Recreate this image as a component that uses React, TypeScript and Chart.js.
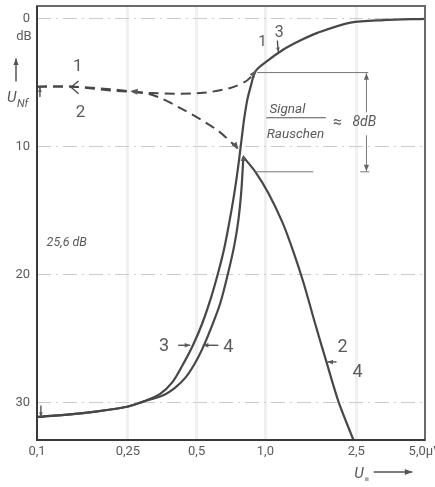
import React, { useEffect, useRef } from "react";
import { Chart, registerables } from "chart.js";

Chart.register(...registerables);

// ---- axis ticks ----
const xTicks = [0.1, 0.25, 0.5, 1.0, 2.5, 5.0];
const xTickLabels = ["0,1", "0,25", "0,5", "1,0", "2,5", "5,0µV"];
const yTicks = [0, 10, 20, 30];
const yTickLabels = ["0", "10", "20", "30"];

// ---- curves (x in µV, y in dB, downward) ----
const curve1X = [0.1, 0.144, 0.209, 0.313, 0.518, 0.702, 0.834, 0.904];
const curve1Y = [5.3, 5.3, 5.5, 5.8, 5.8, 5.4, 4.8, 4.1];

const curve2DashX = [0.1, 0.144, 0.209, 0.313, 0.437, 0.616, 0.754];
const curve2DashY = [5.3, 5.3, 5.6, 5.9, 7.1, 8.7, 10.1];

const curve2X = [0.801, 0.904, 1.03, 1.188, 1.327, 1.468, 1.657, 1.851, 2.09, 2.43];
const curve2Y = [10.8, 11.95, 13.6, 15.9, 18.2, 20.6, 23.9, 26.8, 29.9, 32.9];

const curve3X = [0.1, 0.159, 0.248, 0.292, 0.346, 0.391, 0.4325, 0.479, 0.529, 0.58, 0.622, 0.661, 0.695, 0.724, 0.746, 0.762, 0.777, 0.793, 0.809, 0.834, 0.868, 0.904, 1.0, 1.2, 1.42, 1.69, 2.36, 3.29, 5.0];
const curve3Y = [31.1, 30.8, 30.3, 29.9, 29.3, 28.4, 27.1, 25.6, 23.8, 21.7, 19.8, 17.9, 15.9, 14.1, 12.6, 11.4, 10.2, 8.9, 7.7, 6.3, 5.1, 4.1, 3.4, 2.4, 1.7, 1.1, 0.3, 0.1, 0.0];

const curve4X = [0.1, 0.159, 0.248, 0.292, 0.357, 0.403, 0.4457, 0.488, 0.529, 0.58, 0.635, 0.688, 0.731, 0.762, 0.785, 0.801];
const curve4Y = [31.1, 30.8, 30.3, 29.9, 29.4, 28.8, 28.05, 27.0, 25.8, 24.1, 22.2, 19.8, 17.7, 15.7, 13.4, 10.8];

// ---- curve labels ----
const labelTexts = ["1", "2", "3", "4", "2", "4", "1", "3"];
const labelX = [0.151, 0.155, 0.36, 0.689, 2.18, 2.53, 0.97, 1.15];
const labelY = [3.75, 7.34, 25.6, 25.7, 25.7, 27.6, 1.8, 1.1];
const labelSize = [17, 17, 18, 18, 18, 18, 15, 16];

// ---- notes ----
const snrApprox = "≈";
const snrValue = "8dB";
const noiseLevel = "25,6 dB";

const LINE = "#474747";
const TEXT = "#5a5a5a";
const FONT = "'Liberation Sans Narrow', 'Roboto', 'Liberation Sans', sans-serif";

const pts = (xs: number[], ys: number[]) => xs.map((x, i) => ({ x, y: ys[i] }));

function head(ctx: CanvasRenderingContext2D, x1: number, y1: number, x2: number, y2: number, size = 6) {
  const a = Math.atan2(y2 - y1, x2 - x1);
  ctx.beginPath();
  ctx.moveTo(x2, y2);
  ctx.lineTo(x2 - size * Math.cos(a - 0.38), y2 - size * Math.sin(a - 0.38));
  ctx.lineTo(x2 - size * Math.cos(a + 0.38), y2 - size * Math.sin(a + 0.38));
  ctx.closePath();
  ctx.fill();
}
function arrow(ctx: CanvasRenderingContext2D, x1: number, y1: number, x2: number, y2: number, size = 6) {
  ctx.beginPath();
  ctx.moveTo(x1, y1);
  ctx.lineTo(x2, y2);
  ctx.stroke();
  head(ctx, x1, y1, x2, y2, size);
}

const annotPlugin = {
  id: "annot",
  beforeDraw(chart: any) {
    const c = chart.ctx;
    c.save();
    c.fillStyle = "#fff";
    c.fillRect(0, 0, chart.width, chart.height);
    c.restore();
  },
  afterDatasetsDraw(chart: any) {
    const ctx: CanvasRenderingContext2D = chart.ctx;
    const xs = chart.scales.x;
    const ys = chart.scales.y;
    const X = (v: number) => xs.getPixelForValue(v);
    const Y = (v: number) => ys.getPixelForValue(v);
    const ca = chart.chartArea;
    ctx.save();

    // frame
    ctx.strokeStyle = "#6a6a6a";
    ctx.lineWidth = 2;
    ctx.strokeRect(ca.left, ca.top, ca.right - ca.left, ca.bottom - ca.top);
    ctx.strokeStyle = "#3a3a3a";
    ctx.beginPath();
    ctx.moveTo(ca.left, ca.top);
    ctx.lineTo(ca.left, ca.bottom);
    ctx.lineTo(ca.right, ca.bottom);
    ctx.stroke();

    ctx.fillStyle = TEXT;
    ctx.strokeStyle = LINE;
    ctx.lineWidth = 1.3;

    // curve labels
    ctx.textAlign = "center";
    ctx.textBaseline = "middle";
    labelTexts.forEach((t, i) => {
      ctx.font = `${labelSize[i]}px ${FONT}`;
      ctx.fillText(t, X(labelX[i]), Y(labelY[i]));
    });

    // label arrows
    arrow(ctx, X(0.415), Y(25.5), X(0.469), Y(25.5), 6);
    arrow(ctx, X(0.622), Y(25.5), X(0.532), Y(25.5), 6);
    arrow(ctx, X(2.05), Y(26.8), X(1.87), Y(26.8), 6);
    arrow(ctx, X(1.128), Y(1.7), X(1.14), Y(2.6), 5);
    // chevron on the dashed start
    ctx.beginPath();
    ctx.moveTo(X(0.152), Y(4.85));
    ctx.lineTo(X(0.141), Y(5.35));
    ctx.lineTo(X(0.152), Y(5.85));
    ctx.stroke();
    // arrowheads on curves
    head(ctx, X(0.29), Y(5.75), X(0.256), Y(5.63), 8);
    head(ctx, X(0.72), Y(9.6), X(0.762), Y(10.2), 8);
    head(ctx, X(0.86), Y(4.65), X(0.913), Y(4.0), 8);
    head(ctx, X(0.8), Y(11.6), X(0.801), Y(10.6), 7);

    // 25,6 dB dimension
    arrow(ctx, X(0.103), Y(6.1), X(0.103), Y(5.35), 5);
    arrow(ctx, X(0.104), Y(30.2), X(0.104), Y(31.1), 5);
    ctx.font = `italic 12.5px ${FONT}`;
    ctx.fillText(noiseLevel, X(0.135), Y(17.5));

    // 8 dB dimension
    ctx.lineWidth = 1;
    ctx.strokeStyle = "#777";
    ctx.beginPath();
    ctx.moveTo(X(0.92), Y(4.2));
    ctx.lineTo(X(2.82), Y(4.2));
    ctx.moveTo(X(0.904), Y(11.95));
    ctx.lineTo(X(1.62), Y(11.95));
    ctx.moveTo(X(2.6), Y(11.95));
    ctx.lineTo(X(2.85), Y(11.95));
    ctx.stroke();
    ctx.fillStyle = "#666";
    arrow(ctx, X(2.77), Y(7.3), X(2.77), Y(4.25), 7);
    arrow(ctx, X(2.77), Y(9.1), X(2.77), Y(11.9), 7);

    ctx.fillStyle = TEXT;
    ctx.font = `italic 13.5px ${FONT}`;
    ctx.fillText("Signal", X(1.249), Y(7.1));
    ctx.fillText("Rauschen", X(1.354), Y(9.06));
    ctx.strokeStyle = "#555";
    ctx.lineWidth = 1.2;
    ctx.beginPath();
    ctx.moveTo(X(1.01), Y(7.73));
    ctx.lineTo(X(1.84), Y(7.73));
    ctx.stroke();
    ctx.font = `16px ${FONT}`;
    ctx.fillText(snrApprox, X(2.07), Y(8.1));
    ctx.font = `italic 14px ${FONT}`;
    ctx.fillText(snrValue, X(2.71), Y(8.1));

    // y axis title: dB, arrow, U_Nf
    ctx.textAlign = "center";
    ctx.font = `13px ${FONT}`;
    ctx.fillText("dB", ca.left - 13, Y(1.4));
    ctx.strokeStyle = "#555";
    ctx.lineWidth = 1.5;
    ctx.fillStyle = "#555";
    arrow(ctx, ca.left - 21, Y(4.9), ca.left - 21, Y(3.1), 7);
    ctx.textAlign = "left";
    ctx.font = `italic 15px ${FONT}`;
    ctx.fillText("U", ca.left - 30, Y(6.2));
    ctx.font = `italic 11px ${FONT}`;
    ctx.fillText("Nf", ca.left - 20, Y(6.7));

    // x axis title
    const ty = ca.bottom + 34;
    ctx.font = `italic 15px ${FONT}`;
    ctx.fillText("U", X(2.45), ty);
    ctx.fillStyle = "#aaa";
    ctx.font = `15px ${FONT}`;
    ctx.fillText("▪", X(2.7), ty + 6);
    ctx.fillStyle = "#555";
    arrow(ctx, X(2.98), ty - 2, X(4.4), ty - 2, 8);

    ctx.restore();
  },
};

export default function App() {
  const ref = useRef<HTMLCanvasElement | null>(null);
  useEffect(() => {
    if (!ref.current) return;
    const solid = { borderColor: LINE, borderWidth: 2.2, pointRadius: 0, tension: 0.3, fill: false };
    const dashed = { ...solid, borderWidth: 2, borderDash: [10, 6] };
    const chart = new Chart(ref.current, {
      type: "line",
      data: {
        datasets: [
          { label: "1", data: pts(curve1X, curve1Y), ...dashed },
          { label: "2 (dashed)", data: pts(curve2DashX, curve2DashY), ...dashed },
          { label: "2", data: pts(curve2X, curve2Y), ...solid },
          { label: "3", data: pts(curve3X, curve3Y), ...solid },
          { label: "4", data: pts(curve4X, curve4Y), ...solid },
        ],
      },
      options: {
        responsive: false,
        animation: false,
        layout: { padding: { top: 6, right: 10, left: 0, bottom: 0 } },
        plugins: { legend: { display: false }, tooltip: { enabled: false } },
        scales: {
          x: {
            type: "logarithmic",
            min: 0.1,
            max: 5.0,
            afterBuildTicks: (s: any) => {
              s.ticks = xTicks.map((v) => ({ value: v }));
            },
            afterFit: (s: any) => {
              s.height = 47;
              s.paddingLeft = 0;
              s.paddingRight = 0;
            },
            ticks: {
              autoSkip: false,
              maxRotation: 0,
              padding: 4,
              color: TEXT,
              font: { size: 13, family: FONT },
              callback: (_v: any, i: number) => xTickLabels[i],
            },
            grid: {
              drawTicks: false,
              color: (c: any) => (c.index === 0 || c.index === xTicks.length - 1 ? "rgba(0,0,0,0)" : "rgba(0,0,0,0.06)"),
              lineWidth: 3,
            },
            border: { display: false },
          },
          y: {
            type: "linear",
            reverse: true,
            min: -1,
            max: 32.9,
            afterBuildTicks: (s: any) => {
              s.ticks = yTicks.map((v) => ({ value: v }));
            },
            afterFit: (s: any) => {
              s.width = 37;
              s.paddingTop = 0;
              s.paddingBottom = 0;
            },
            ticks: {
              padding: 7,
              color: TEXT,
              font: { size: 13, family: FONT },
              callback: (_v: any, i: number) => yTickLabels[i],
            },
            grid: { drawTicks: false, color: "#cccccc", lineWidth: 1 },
            border: { display: false, dash: [14, 5, 2, 5] },
          },
        },
      },
      plugins: [annotPlugin],
    });
    return () => chart.destroy();
  }, []);
  return (
    <div style={{ position: "absolute", left: 0, top: 0, width: 435, height: 487 }}>
      <canvas ref={ref} width={435} height={487} style={{ display: "block" }} />
    </div>
  );
}
